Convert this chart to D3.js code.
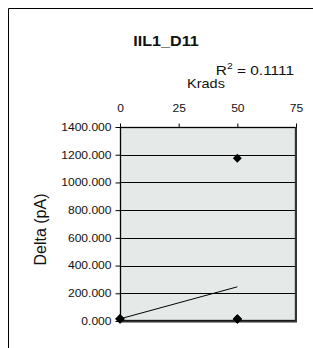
<!DOCTYPE html>
<html><head><meta charset="utf-8">
<script src="https://cdn.jsdelivr.net/npm/d3@7"></script>
<style>body{margin:0;background:#fff}svg{display:block}text{font-family:"Liberation Sans",Arial,sans-serif;fill:#111}</style>
</head><body>
<script>
const title = "IIL1_D11";
const xLabel = "Krads";
const yLabel = "Delta (pA)";
const xTicks = [0, 25, 50, 75];
const yTicks = [0, 200, 400, 600, 800, 1000, 1200, 1400];
const krads = [0, 0, 0, 0, 0, 50, 50, 50, 50, 50];
const delta = [15, 14, 16, 15, 17, 1175, 14, 15, 13, 16];
const rSquaredLabel = "0.1111";

const W = 313, H = 348, SX = 1.15;
const svg = d3.select("body").append("svg").attr("width", W).attr("height", H);
// outer frame (cropped at right/bottom)
svg.append("path").attr("d", "M8.5,348 V8.5 H313").attr("fill", "none").attr("stroke", "#000").attr("stroke-width", 1);

const m = {l: 120, r: 296, t: 127, b: 321};
const x = d3.scaleLinear().domain([0, 75]).range([m.l, m.r]);
const y = d3.scaleLinear().domain([0, 1400]).range([m.b, m.t]);

svg.append("rect").attr("x", m.l).attr("y", m.t).attr("width", m.r - m.l).attr("height", m.b - m.t)
  .attr("fill", "#e5eae9");
// gridlines
svg.append("g").selectAll("line").data(yTicks.filter(v => v > 0 && v < 1400)).join("line")
  .attr("x1", m.l).attr("x2", m.r).attr("y1", d => Math.round(y(d)) + 0.5).attr("y2", d => Math.round(y(d)) + 0.5)
  .attr("stroke", "#000").attr("stroke-width", 1);
svg.append("rect").attr("x", m.l + 0.5).attr("y", m.t + 0.5).attr("width", m.r - m.l - 1).attr("height", m.b - m.t - 1)
  .attr("fill", "none").attr("stroke", "#000").attr("stroke-width", 1.3);
svg.append("path").attr("d", `M${m.r},${m.t} V${m.b + 0.5} H${m.l}`).attr("fill", "none")
  .attr("stroke", "#333").attr("stroke-width", 2);

function stretch(sel) {
  sel.each(function () {
    const t = d3.select(this);
    const xx = +t.attr("x") || 0;
    t.attr("transform", `translate(${xx},0) scale(${SX},1) translate(${-xx},0)`);
  });
}

const yAxis = svg.append("g").attr("transform", `translate(${m.l + 0.5},0)`)
  .call(d3.axisLeft(y).tickValues(yTicks).tickFormat(d3.format(".3f")).tickSize(5).tickPadding(4));
yAxis.select(".domain").remove();
yAxis.selectAll("line").attr("stroke", "#000");
yAxis.selectAll("text").style("font-size", "10.5px").attr("fill", "#111").call(stretch);

const xAxis = svg.append("g").attr("transform", `translate(0,${m.t + 0.5})`)
  .call(d3.axisTop(x).tickValues(xTicks).tickFormat(d3.format("d")).tickSize(4).tickPadding(12));
xAxis.select(".domain").remove();
xAxis.selectAll("line").attr("stroke", "#000");
xAxis.selectAll("text").style("font-size", "10.5px").attr("fill", "#111").call(stretch);

// trend line (least squares)
const n = krads.length;
const mx = d3.mean(krads), my = d3.mean(delta);
let sxy = 0, sxx = 0;
for (let i = 0; i < n; i++) { sxy += (krads[i] - mx) * (delta[i] - my); sxx += (krads[i] - mx) ** 2; }
const slope = sxy / sxx, icpt = my - slope * mx;
const xr = d3.extent(krads);
svg.append("line").attr("x1", x(xr[0])).attr("x2", x(xr[1]))
  .attr("y1", y(icpt + slope * xr[0])).attr("y2", y(icpt + slope * xr[1]))
  .attr("stroke", "#000").attr("stroke-width", 1);

// markers
svg.append("g").selectAll("path").data(krads.map((k, i) => [k, delta[i]])).join("path")
  .attr("transform", d => `translate(${x(d[0])},${y(d[1])}) rotate(45)`)
  .attr("d", d3.symbol(d3.symbolSquare, 40)).attr("fill", "#000");

svg.append("text").attr("x", 166).attr("y", 46).attr("text-anchor", "middle")
  .style("font-size", "14px").style("font-weight", "bold").text(title)
  .attr("transform", `translate(166,0) scale(${SX},1) translate(-166,0)`);
const r2 = svg.append("text").attr("x", 294).attr("y", 75).attr("text-anchor", "end").style("font-size", "13.4px")
  .attr("transform", `translate(294,0) scale(${SX},1) translate(-294,0)`);
r2.append("tspan").text("R");
r2.append("tspan").attr("dy", -6).style("font-size", "9px").text("2");
r2.append("tspan").attr("dy", 6).text(" = " + rSquaredLabel);
svg.append("text").attr("x", 206).attr("y", 88).attr("text-anchor", "middle").style("font-size", "12.6px").text(xLabel)
  .attr("transform", `translate(206,0) scale(${SX},1) translate(-206,0)`);
svg.append("text").attr("transform", `translate(46,229.5) rotate(-90)`).attr("text-anchor", "middle")
  .style("font-size", "16px").text(yLabel);
</script>
</body></html>
